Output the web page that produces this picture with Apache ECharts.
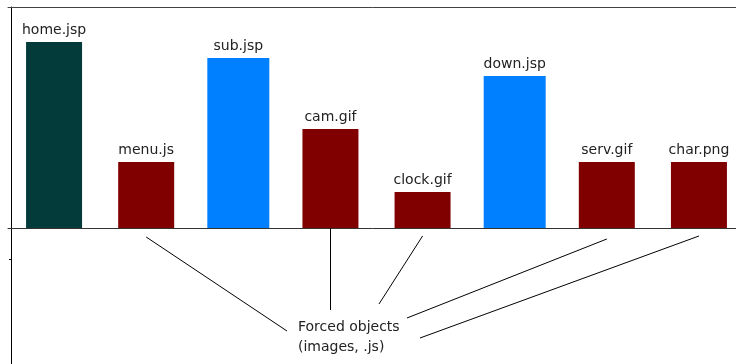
<!DOCTYPE html>
<html><head><meta charset="utf-8">
<script src="https://cdn.jsdelivr.net/npm/echarts@6/dist/echarts.min.js"></script>
<style>html,body{margin:0;padding:0;background:#fff}#c{width:736px;height:364px}</style>
</head><body><div id="c"></div>
<script>
// ---- data ----
const categories = ['home.jsp', 'menu.js', 'sub.jsp', 'cam.gif', 'clock.gif', 'down.jsp', 'serv.gif', 'char.png'];
const values = [186, 66, 170, 99, 36, 152, 66, 66];
const kinds = ['main', 'object', 'page', 'object', 'object', 'page', 'object', 'object'];
const forcedObjects = ['menu.js', 'cam.gif', 'clock.gif', 'serv.gif', 'char.png'];
const annotationText = ['Forced objects', '(images, .js)'];
const yMin = -136, yMax = 221;

// ---- styles / layout ----
const kindColors = { main: '#033b3b', object: '#800000', page: '#0080ff' };
const leaderStartValue = [-9, 0, -8, -11, -8];
const leaderEnds = [{x: 287, y: 331}, null, {x: 379, y: 304}, {x: 407, y: 318}, {x: 420, y: 338}];
const verticalEndValue = -82;
const FONT = 'DejaVu Sans';

const objData = values.map((v, i) => kinds[i] === 'page' ? '-' : v);
const pageData = values.map((v, i) => kinds[i] === 'page' ? v : '-');

const leaderLines = forcedObjects.map((name, k) => {
  const start = { coord: [name, leaderStartValue[k]] };
  const end = leaderEnds[k] ? { x: leaderEnds[k].x, y: leaderEnds[k].y } : { coord: [name, verticalEndValue] };
  return [start, end];
});

const labelCfg = { show: true, position: 'top', distance: 5, formatter: '{b}', color: '#222', fontFamily: FONT, fontSize: 14 };

const chart = echarts.init(document.getElementById('c'), null, { renderer: 'canvas' });
chart.setOption({
  animation: false,
  grid: { left: 8, top: 7, width: 737, bottom: 0, containLabel: false, outerBoundsMode: 'none' },
  xAxis: [
    { type: 'category', data: categories, position: 'bottom',
      axisLine: { onZero: true, lineStyle: { color: '#333', width: 1 } },
      axisTick: { show: false }, axisLabel: { show: false }, splitLine: { show: false } },
    { type: 'category', data: categories, position: 'top',
      axisLine: { onZero: false, lineStyle: { color: '#444', width: 1 } },
      axisTick: { show: false }, axisLabel: { show: false }, splitLine: { show: false } }
  ],
  yAxis: {
    type: 'value', min: yMin, max: yMax, offset: -3,
    axisLine: { show: true, lineStyle: { color: '#000', width: 1 } },
    axisTick: { show: true, length: 2, customValues: [-31], lineStyle: { color: '#000' } },
    axisLabel: { show: false }, splitLine: { show: false }
  },
  series: [
    { type: 'bar', xAxisIndex: 0, data: objData, barWidth: 56,
      itemStyle: { color: p => kindColors[kinds[p.dataIndex]] },
      label: labelCfg,
      markLine: {
        silent: true, symbol: ['none', 'none'], animation: false,
        label: { show: false },
        lineStyle: { color: '#000', width: 1, type: 'solid' },
        emphasis: { disabled: true },
        data: leaderLines
      }
    },
    { type: 'bar', xAxisIndex: 1, data: pageData, barWidth: 62,
      itemStyle: { color: p => kindColors[kinds[p.dataIndex]] },
      label: labelCfg }
  ],
  graphic: [{
    type: 'text', left: 298, top: 317,
    style: { text: annotationText.join('\n'), font: '14px "' + FONT + '"', lineHeight: 20, fill: '#222' }
  }]
});
</script></body></html>
